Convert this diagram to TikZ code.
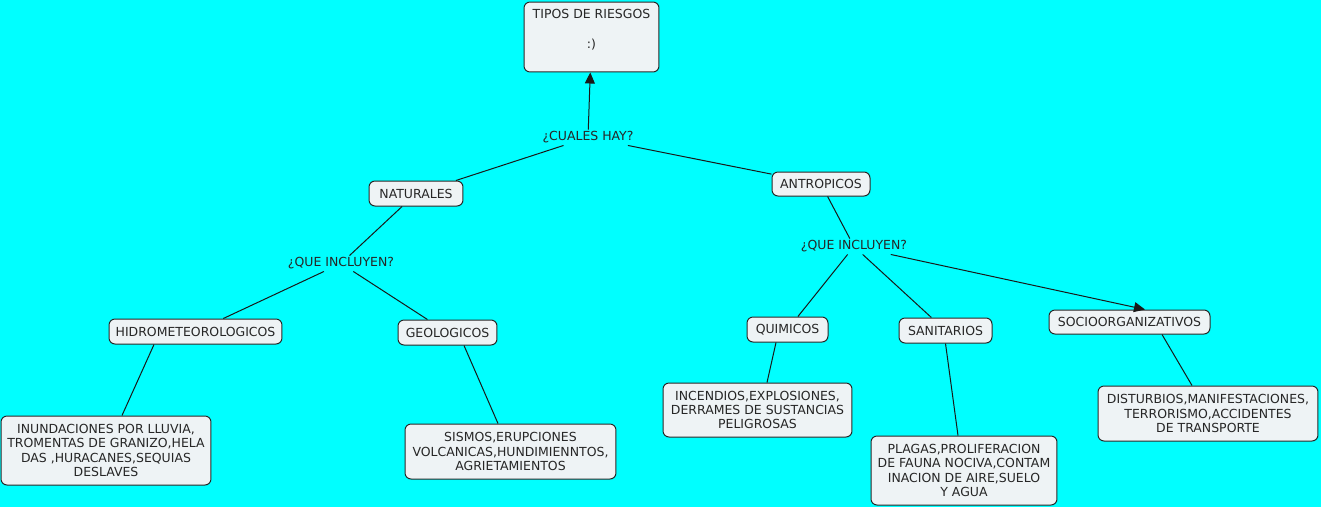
\documentclass[tikz,border=0pt]{standalone}
\usepackage{fontspec}
\setmainfont{DejaVu Sans}
\usepackage{xcolor}
\usepackage{tikz}
\usetikzlibrary{arrows.meta}
\definecolor{fondo}{RGB}{0,255,255}
\definecolor{caja}{RGB}{238,243,245}
\definecolor{borde}{RGB}{40,40,40}
\tikzset{
	concepto/.style={draw=borde,fill=caja,rounded corners=0.12cm,line width=0.02cm,inner sep=0pt,align=center,text=black!85,font=\fontsize{7.1}{8.1}\selectfont},
	enlace/.style={inner sep=1pt,text=black!85,font=\fontsize{7.1}{8.1}\selectfont},
	liga/.style={line width=0.02cm,draw=black!90},
	flecha/.style={liga,-{Triangle[length=0.22cm,width=0.2cm]}}
}

\begin{document}
\begin{tikzpicture}[x=0.02cm,y=-0.02cm]
		\fill[fondo] (0,0) rectangle (1321,507);
		\useasboundingbox (0,0) rectangle (1321,507);
	
		\node[concepto,minimum width=2.7cm,minimum height=1.4cm] (tipos) at (591.5,37) {TIPOS DE RIESGOS\\[8.9pt]:)\\[1pt]\mbox{}};
		\node[enlace] (cuales) at (588,137.5) {¿CUALES HAY?};
		\node[concepto,minimum width=1.88cm,minimum height=0.5cm] (naturales) at (416,193.5) {NATURALES};
		\node[concepto,minimum width=1.96cm,minimum height=0.48cm] (antropicos) at (821,184) {ANTROPICOS};
		\node[enlace] (incluyenN) at (341,263.5) {¿QUE INCLUYEN?};
		\node[enlace] (incluyenA) at (854,246.5) {¿QUE INCLUYEN?};
	
		\node[concepto,minimum width=3.46cm,minimum height=0.5cm] (hidro) at (195.5,331.5) {HIDROMETEOROLOGICOS};
		\node[concepto,minimum width=1.98cm,minimum height=0.5cm] (geo) at (447.5,332.5) {GEOLOGICOS};
		\node[concepto,minimum width=1.62cm,minimum height=0.5cm] (quimicos) at (787.5,329.5) {QUIMICOS};
		\node[concepto,minimum width=1.86cm,minimum height=0.5cm] (sanitarios) at (945.5,330.5) {SANITARIOS};
		\node[concepto,minimum width=3.22cm,minimum height=0.48cm] (socio) at (1129.5,322) {SOCIOORGANIZATIVOS};
	
		\node[concepto,minimum width=4.2cm,minimum height=1.38cm] (hidroEj) at (106,450.5) {INUNDACIONES POR LLUVIA,\\TROMENTAS DE GRANIZO,HELA\\DAS ,HURACANES,SEQUIAS\\DESLAVES};
		\node[concepto,minimum width=4.22cm,minimum height=1.1cm] (geoEj) at (510.5,451.5) {SISMOS,ERUPCIONES\\VOLCANICAS,HUNDIMIENNTOS,\\AGRIETAMIENTOS};
		\node[concepto,minimum width=3.78cm,minimum height=1.08cm] (quimicosEj) at (757.5,410) {INCENDIOS,EXPLOSIONES,\\DERRAMES DE SUSTANCIAS\\PELIGROSAS};
		\node[concepto,minimum width=3.72cm,minimum height=1.38cm] (sanitariosEj) at (964,470.5) {PLAGAS,PROLIFERACION\\DE FAUNA NOCIVA,CONTAM\\INACION DE AIRE,SUELO\\Y AGUA};
		\node[concepto,minimum width=4.4cm,minimum height=1.1cm] (socioEj) at (1208,413.5) {DISTURBIOS,MANIFESTACIONES,\\TERRORISMO,ACCIDENTES\\DE TRANSPORTE};
	
		\draw[flecha] (cuales) -- (tipos);
		\draw[liga] (naturales) -- (cuales);
		\draw[liga] (cuales) -- (antropicos);
		\draw[liga] (naturales) -- (incluyenN);
		\draw[liga] (incluyenN) -- (hidro);
		\draw[liga] (incluyenN) -- (geo);
		\draw[liga] (antropicos) -- (incluyenA);
		\draw[liga] (incluyenA) -- (quimicos);
		\draw[liga] (incluyenA) -- (sanitarios);
		\draw[flecha] (incluyenA) -- ([xshift=0.31cm]socio.north);
		\draw[liga] ([xshift=-0.83cm]hidro.south) -- ([xshift=0.32cm]hidroEj.north);
		\draw[liga] ([xshift=0.33cm]geo.south) -- ([xshift=-0.25cm]geoEj.north);
		\draw[liga] ([xshift=-0.23cm]quimicos.south) -- ([xshift=0.19cm]quimicosEj.north);
		\draw[liga] (sanitarios.south) -- ([xshift=-0.12cm]sanitariosEj.north);
		\draw[liga] ([xshift=0.65cm]socio.south) -- ([xshift=-0.32cm]socioEj.north);
	\end{tikzpicture}
\end{document}
